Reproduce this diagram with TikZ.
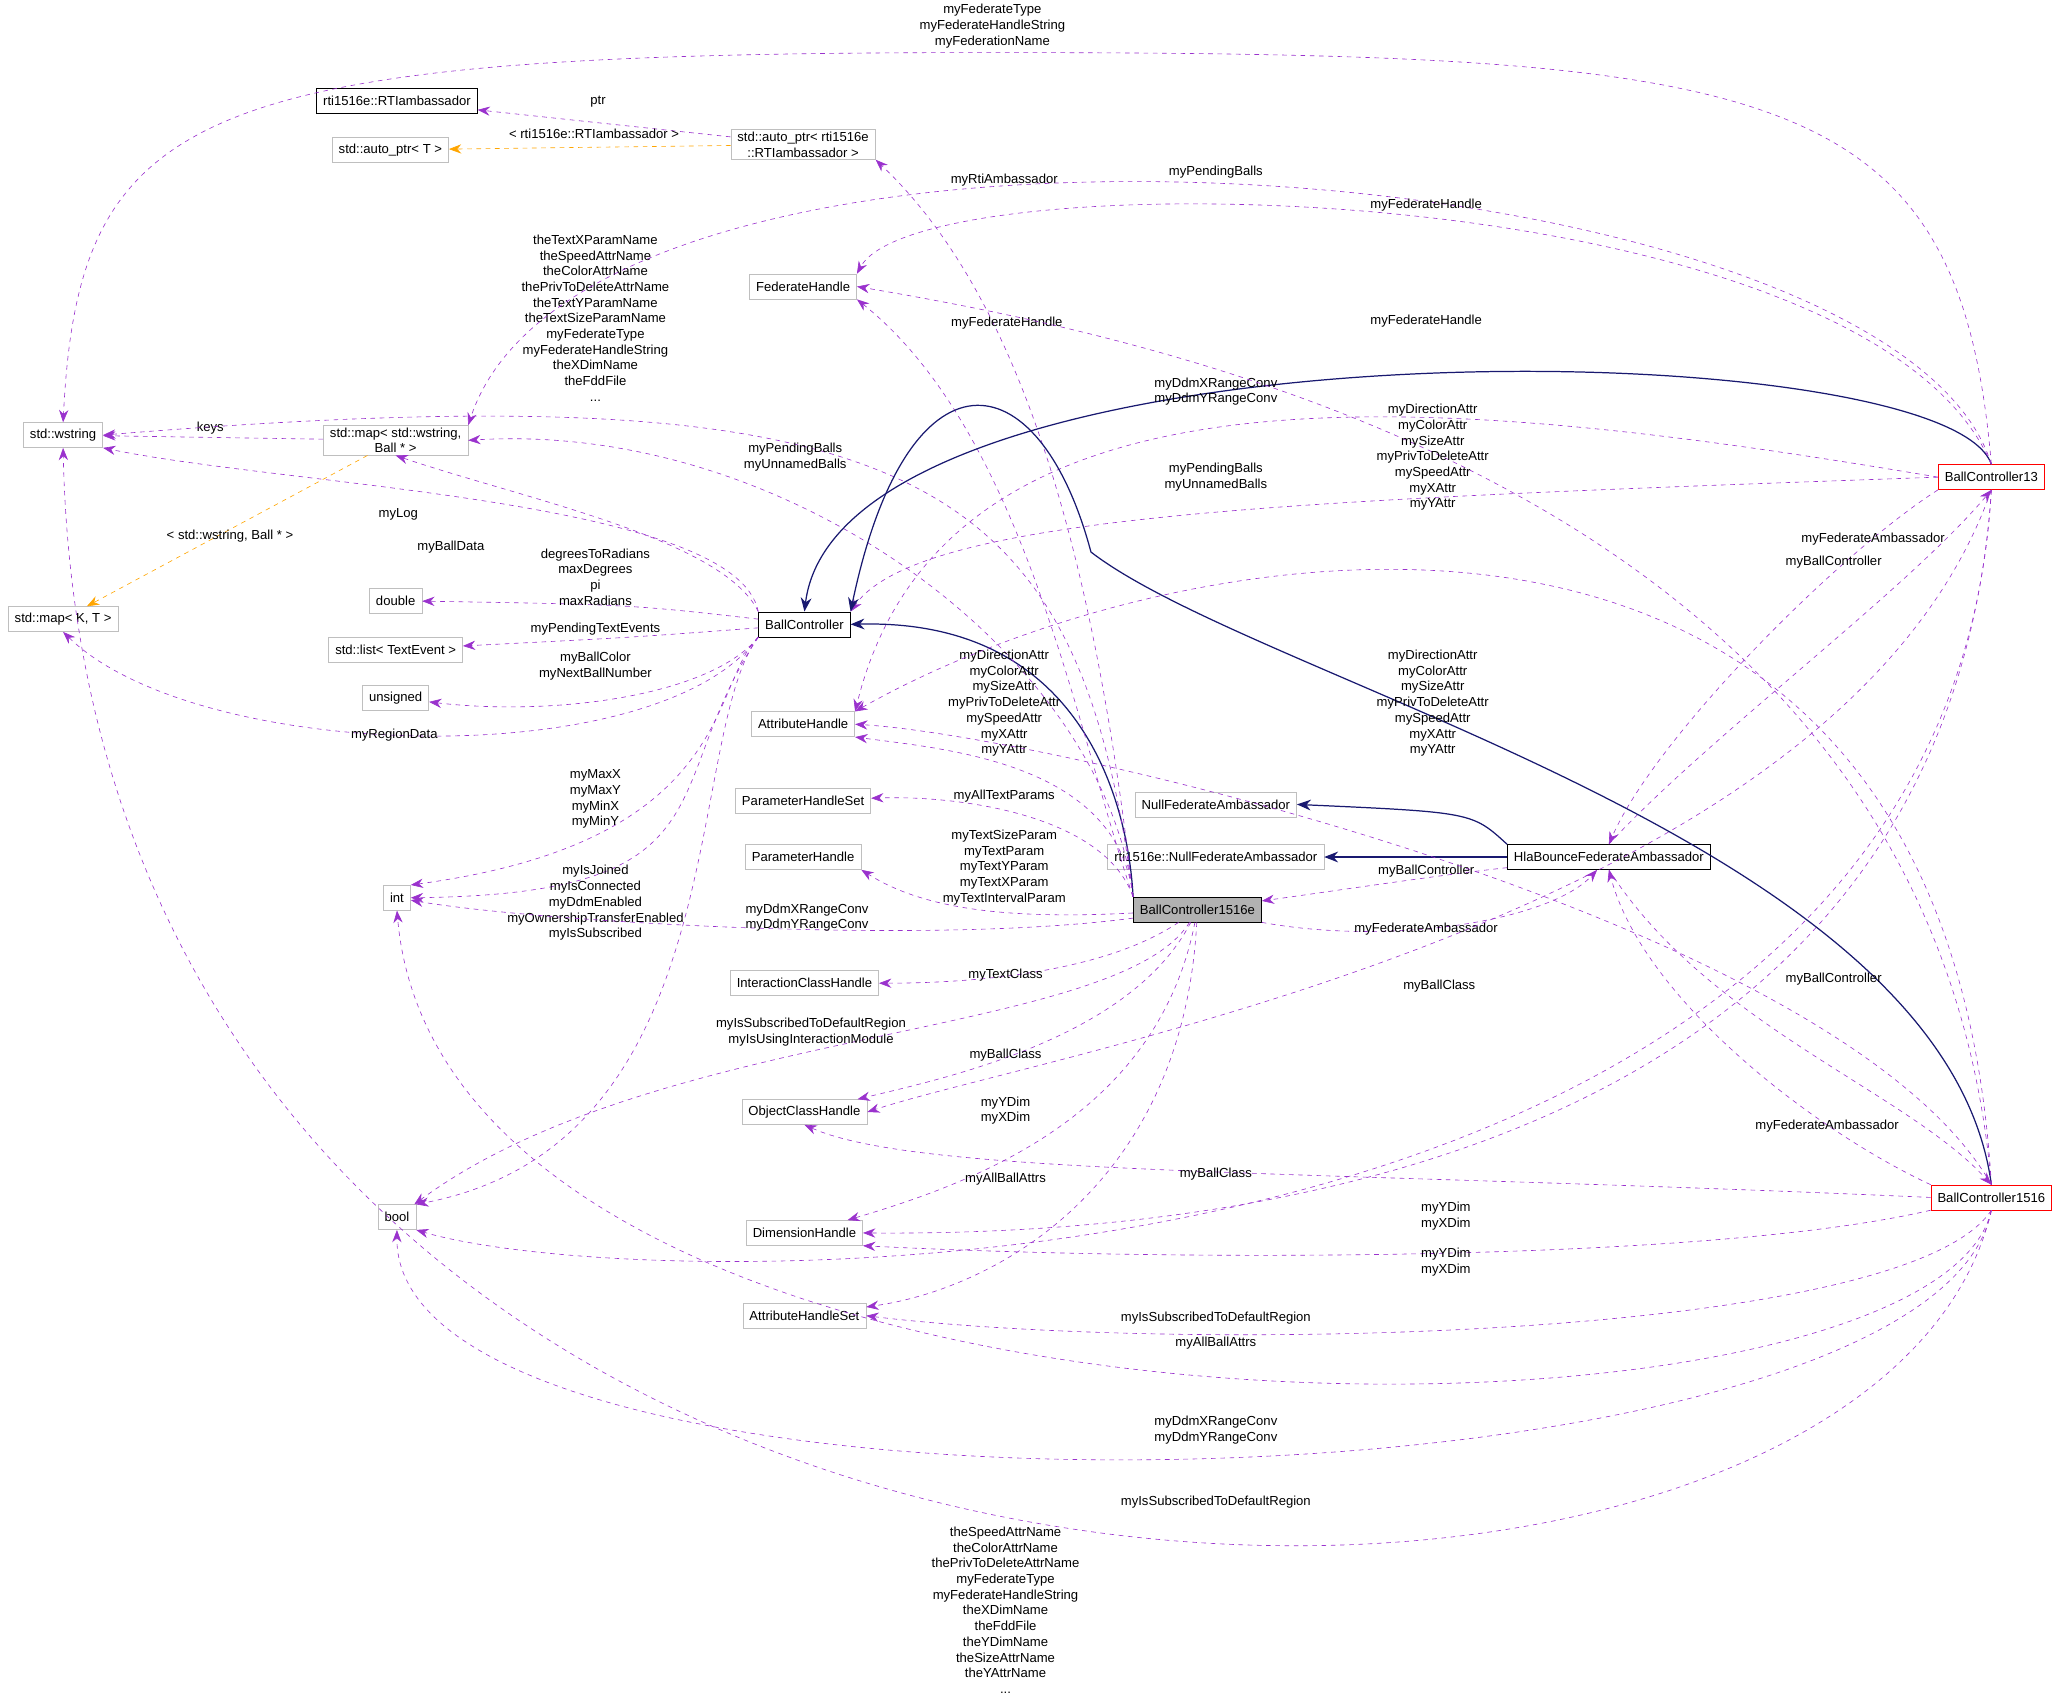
\documentclass[tikz,border=0pt]{standalone}
\usepackage{fontspec}
\setmainfont{Liberation Sans}
\usetikzlibrary{arrows.meta}
\definecolor{rel}{HTML}{9A32CD}
\definecolor{inh}{HTML}{191970}
\definecolor{tpl}{HTML}{FFA500}
\definecolor{gb}{HTML}{BFBFBF}
\begin{document}
\begin{tikzpicture}[x=0.03cm,y=-0.03cm,
  every node/.style={font=\fontsize{8.5}{10.2}\selectfont},
  box/.style={draw=gb,fill=white,minimum height=0.57cm,inner xsep=0.15cm,inner ysep=0.05cm,align=center},
  bbox/.style={box,draw=black},
  rbox/.style={box,draw=red},
  lbl/.style={align=center,inner sep=0pt},
  rel/.style={draw=rel,dashed,-{Stealth[length=8pt,width=6pt]}},
  tmpl/.style={draw=tpl,dashed,-{Stealth[length=8pt,width=6pt]}},
  inh/.style={draw=inh,thick,-{Stealth[length=9pt,width=7pt]}}]
\useasboundingbox (0,0) rectangle (1568,1291);
% nodes
\node[bbox] (rti) at (302,77) {rti1516e::RTIambassador};
\node[box] (autoT) at (297,114) {std::auto\_ptr< T >};
\node[box] (aRTI) at (611,110) {std::auto\_ptr< rti1516e\\::RTIambassador >};
\node[box] (fh) at (611,218) {FederateHandle};
\node[box] (wstr) at (48,331) {std::wstring};
\node[box] (mapWB) at (301,335) {std::map< std::wstring,\\Ball * >};
\node[box] (mapKT) at (48,471) {std::map< K, T >};
\node[box] (dbl) at (301,457) {double};
\node[box] (lst) at (301,494) {std::list< TextEvent >};
\node[box] (uns) at (301,531) {unsigned};
\node[bbox] (bc) at (612,475) {BallController};
\node[box] (ah) at (611,551) {AttributeHandle};
\node[box] (phs) at (611,609) {ParameterHandleSet};
\node[box] (ph) at (611,652) {ParameterHandle};
\node[box] (int) at (302,683) {int};
\node[box,draw=black,fill=gray!60] (bce) at (911,692) {BallController1516e};
\node[box] (nfa) at (925,612) {NullFederateAmbassador};
\node[box] (rnfa) at (925,652) {rti1516e::NullFederateAmbassador};
\node[bbox] (hla) at (1224,652) {HlaBounceFederateAmbassador};
\node[rbox] (b13) at (1515,363) {BallController13};
\node[rbox] (b16) at (1515,911) {BallController1516};
\node[box] (ich) at (612,748) {InteractionClassHandle};
\node[box] (och) at (612,846) {ObjectClassHandle};
\node[box] (bool) at (302,926) {bool};
\node[box] (dh) at (612,938) {DimensionHandle};
\node[box] (ahs) at (612,1001) {AttributeHandleSet};
\coordinate (topmid) at (750,40);
% templates
\draw[rel] (aRTI) .. controls (470,95) .. (rti);
\node[lbl] at (455,77) {ptr};
\draw[tmpl] (aRTI) -- (autoT);
\node[lbl] at (452,102) {< rti1516e::RTIambassador >};
\draw[rel] (mapWB) -- (wstr);
\node[lbl] at (160,326) {keys};
\draw[tmpl] (mapWB) -- (mapKT);
\node[lbl] at (175,408) {< std::wstring, Ball * >};
% BallController
\draw[rel] (bc.north west) .. controls (560,380) and (220,370) .. (wstr.south east);
\node[lbl] at (303,391) {myLog};
\draw[rel] (bc.north west) .. controls (550,410) and (400,380) .. (mapWB.south);
\node[lbl] at (343,416) {myBallData};
\draw[rel] (bc) .. controls (480,460) .. (dbl);
\node[lbl] at (453,439) {degreesToRadians\\maxDegrees\\pi\\maxRadians};
\draw[rel] (bc) .. controls (480,485) .. (lst);
\node[lbl] at (453,479) {myPendingTextEvents};
\draw[rel] (bc.south west) .. controls (540,530) and (420,545) .. (uns);
\node[lbl] at (453,507) {myBallColor\\myNextBallNumber};
\draw[rel] (bc.south west) .. controls (500,590) and (150,580) .. (mapKT.south);
\node[lbl] at (300,559) {myRegionData};
\draw[rel] (bc.south west) .. controls (540,520) and (560,640) .. (int.north east);
\node[lbl] at (453,608) {myMaxX\\myMaxY\\myMinX\\myMinY};
\draw[rel] (bc.south west) .. controls (500,600) and (560,680) .. (int.east);
\node[lbl] at (453,687) {myIsJoined\\myIsConnected\\myDdmEnabled\\myOwnershipTransferEnabled\\myIsSubscribed};
\draw[rel] (bc.south west) .. controls (520,560) and (560,870) .. (bool.north east);
% BallController1516e
\draw[inh] (bce.north west) .. controls (860,640) and (840,470) .. (bc.east);
\draw[rel] (bce.north west) .. controls (830,400) and (770,220) .. (aRTI.south east);
\node[lbl] at (764,137) {myRtiAmbassador};
\draw[rel] (bce.north west) .. controls (820,560) and (780,330) .. (fh.south east);
\node[lbl] at (766,246) {myFederateHandle};
\draw[rel] (bce.north west) .. controls (820,360) and (700,280) .. (wstr.east);
\node[lbl] at (453,242) {theTextXParamName\\theSpeedAttrName\\theColorAttrName\\thePrivToDeleteAttrName\\theTextYParamName\\theTextSizeParamName\\myFederateType\\myFederateHandleString\\theXDimName\\theFddFile\\...};
\draw[rel] (bce.north west) .. controls (840,500) and (600,320) .. (mapWB.east);
\node[lbl] at (605,348) {myPendingBalls\\myUnnamedBalls};
\draw[rel] (bce.north west) .. controls (850,580) and (720,570) .. (ah.south east);
\node[lbl] at (764,535) {myDirectionAttr\\myColorAttr\\mySizeAttr\\myPrivToDeleteAttr\\mySpeedAttr\\myXAttr\\myYAttr};
\draw[rel] (bce.north west) .. controls (840,620) and (730,605) .. (phs);
\node[lbl] at (764,606) {myAllTextParams};
\draw[rel] (bce) .. controls (760,700) and (700,690) .. (ph.south east);
\node[lbl] at (764,660) {myTextSizeParam\\myTextParam\\myTextYParam\\myTextXParam\\myTextIntervalParam};
\draw[rel] (bce) .. controls (700,720) and (400,700) .. (int);
\node[lbl] at (614,698) {myDdmXRangeConv\\myDdmYRangeConv};
\draw[rel] (bce) .. controls (840,740) and (740,748) .. (ich);
\node[lbl] at (765,742) {myTextClass};
\draw[rel] (bce) .. controls (850,790) and (500,780) .. (bool);
\node[lbl] at (617,785) {myIsSubscribedToDefaultRegion\\myIsUsingInteractionModule};
\draw[rel] (bce) .. controls (860,790) and (720,820) .. (och);
\node[lbl] at (765,803) {myBallClass};
\draw[rel] (bce) .. controls (880,850) and (740,900) .. (dh);
\node[lbl] at (765,845) {myYDim\\myXDim};
\draw[rel] (bce) .. controls (900,900) and (760,980) .. (ahs);
\node[lbl] at (765,897) {myAllBallAttrs};
\draw[rel] (bce.south east) .. controls (1060,720) and (1180,700) .. (hla);
\node[lbl] at (1085,707) {myFederateAmbassador};
\draw[rel] (hla) .. controls (1100,665) and (1000,680) .. (bce);
\node[lbl] at (1085,663) {myBallController};
% HlaBounce inheritance
\draw[inh] (hla.north west) .. controls (1120,618) .. (nfa.east);
\draw[inh] (hla) -- (rnfa);
% BallController13
\draw[inh] (b13.north) .. controls (1480,250) and (640,240) .. (bc.north);
\draw[rel] (b13.north) .. controls (1490,60) and (1350,40) .. (topmid) .. controls (150,40) and (60,80) .. (wstr.north);
\node[lbl] at (755,20) {myFederateType\\myFederateHandleString\\myFederationName};
\draw[rel] (b13.north) .. controls (1440,110) and (450,40) .. (mapWB.north east);
\node[lbl] at (925,131) {myPendingBalls};
\draw[rel] (b13.north) .. controls (1420,130) and (700,120) .. (fh.north east);
\node[lbl] at (1085,156) {myFederateHandle};
\draw[rel] (b13.west) .. controls (1100,300) and (720,260) .. (ah.north east);
\node[lbl] at (925,298) {myDdmXRangeConv\\myDdmYRangeConv};
\draw[rel] (b13.west) .. controls (1000,380) and (700,390) .. (bc.north east);
\node[lbl] at (925,363) {myPendingBalls\\myUnnamedBalls};
\draw[rel] (b13.south west) .. controls (1400,420) and (1260,560) .. (hla.north);
\node[lbl] at (1425,410) {myFederateAmbassador};
\draw[rel] (hla.north) .. controls (1300,560) and (1450,450) .. (b13.south);
\node[lbl] at (1395,428) {myBallController};
\draw[rel] (b13.south) .. controls (1400,700) and (800,800) .. (och.east);
\node[lbl] at (1095,750) {myBallClass};
\draw[rel] (b13.south) .. controls (1480,900) and (900,940) .. (dh.east);
\node[lbl] at (1100,925) {myYDim\\myXDim};
\draw[rel] (b13.south) .. controls (1480,1000) and (500,990) .. (bool.south east);
\node[lbl] at (925,1003) {myIsSubscribedToDefaultRegion};
% BallController1516
\draw[inh] (b16.north) .. controls (1480,640) and (960,520) .. (830,420) .. controls (790,270) and (690,260) .. (bc.north east);
\draw[rel] (b16.west) .. controls (1000,890) and (700,895) .. (och.south);
\node[lbl] at (925,893) {myBallClass};
\draw[rel] (b16.south west) .. controls (1300,960) and (900,960) .. (dh.south east);
\node[lbl] at (1100,960) {myYDim\\myXDim};
\draw[rel] (b16.south) .. controls (1450,1020) and (900,1030) .. (ahs.east);
\node[lbl] at (925,1022) {myAllBallAttrs};
\draw[rel] (b16.south) .. controls (1470,1120) and (340,1130) .. (int.south);
\node[lbl] at (925,1088) {myDdmXRangeConv\\myDdmYRangeConv};
\draw[rel] (b16.south) .. controls (1470,1160) and (300,1180) .. (bool.south);
\node[lbl] at (925,1143) {myIsSubscribedToDefaultRegion};
\draw[rel] (b16.south) .. controls (1420,1330) and (70,1320) .. (wstr.south);
\node[lbl] at (765,1225) {theSpeedAttrName\\theColorAttrName\\thePrivToDeleteAttrName\\myFederateType\\myFederateHandleString\\theXDimName\\theFddFile\\theYDimName\\theSizeAttrName\\theYAttrName\\...};
\draw[rel] (b16.north west) .. controls (1380,860) and (1250,760) .. (hla.south);
\node[lbl] at (1390,857) {myFederateAmbassador};
\draw[rel] (hla.south) .. controls (1300,780) and (1450,830) .. (b16.north);
\node[lbl] at (1395,745) {myBallController};
\draw[rel] (b16.north) .. controls (1400,700) and (800,560) .. (ah.east);
\node[lbl] at (1090,535) {myDirectionAttr\\myColorAttr\\mySizeAttr\\myPrivToDeleteAttr\\mySpeedAttr\\myXAttr\\myYAttr};
\draw[rel] (b16.north) .. controls (1470,380) and (900,260) .. (fh.east);
\node[lbl] at (1085,244) {myFederateHandle};
\draw[rel] (b16.north) .. controls (1480,300) and (900,400) .. (ah.north east);
\node[lbl] at (1090,348) {myDirectionAttr\\myColorAttr\\mySizeAttr\\myPrivToDeleteAttr\\mySpeedAttr\\myXAttr\\myYAttr};
\end{tikzpicture}
\end{document}
